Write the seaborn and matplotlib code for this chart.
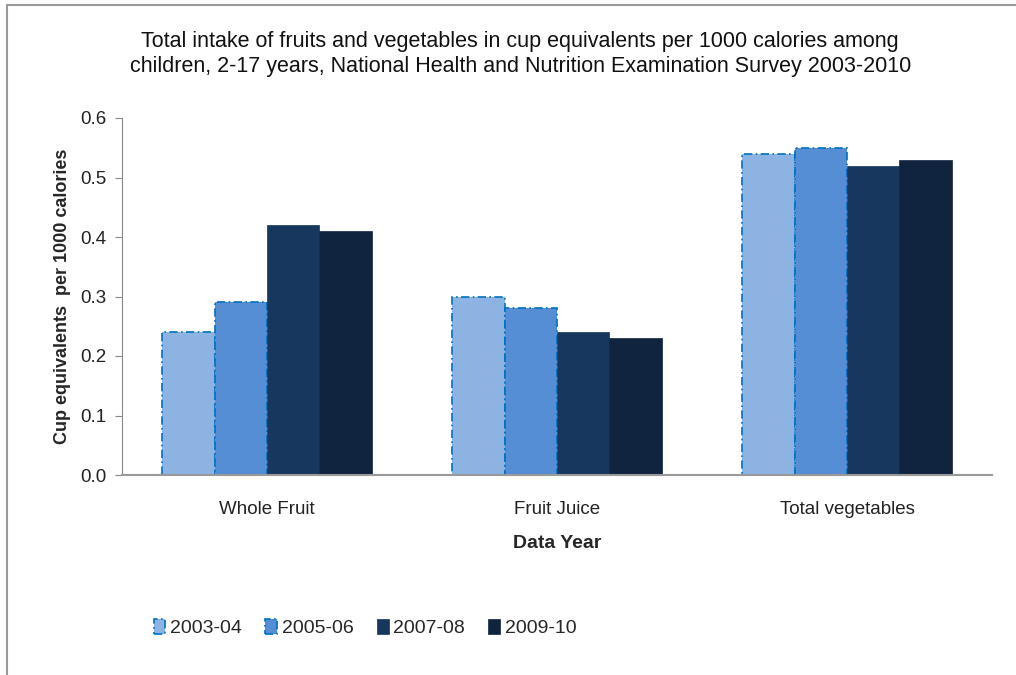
import numpy as np
import pandas as pd
import seaborn as sns
import matplotlib.pyplot as plt
from matplotlib.lines import Line2D

categories = ["Whole Fruit", "Fruit Juice", "Total vegetables"]
years = ["2003-04", "2005-06", "2007-08", "2009-10"]
v_2003 = [0.24, 0.30, 0.54]
v_2005 = [0.29, 0.28, 0.55]
v_2007 = [0.42, 0.24, 0.52]
v_2009 = [0.41, 0.23, 0.53]
colors = ["#8DB3E2", "#558ED5", "#17375E", "#10243F"]

rows = []
for yr, vals in zip(years, [v_2003, v_2005, v_2007, v_2009]):
    for cat, v in zip(categories, vals):
        rows.append({"category": cat, "year": yr, "value": v})
df = pd.DataFrame(rows)

sns.set_style("white")
plt.rcParams['font.family'] = ['Liberation Sans', 'DejaVu Sans']

fig = plt.figure(figsize=(10.16, 6.75), dpi=100)
ax = fig.add_axes([122 / 1016, 1 - 475 / 675, 870 / 1016, 357 / 675])

sns.barplot(data=df, x="category", y="value", hue="year", order=categories,
            hue_order=years, palette=colors, width=0.724, gap=0, saturation=1,
            ax=ax, legend=False)

for i, cont in enumerate(ax.containers):
    for p in cont.patches:
        if i < 2:
            p.set_edgecolor("#0070C0")
            p.set_linestyle((0, (5, 2, 1, 2)))
            p.set_linewidth(1.2)
        else:
            p.set_edgecolor(colors[i])
            p.set_linewidth(0.5)

ax.set_ylim(0, 0.6)
ax.set_yticks(np.arange(0, 0.61, 0.1))
ax.set_yticklabels([f"{t:.1f}" for t in np.arange(0, 0.61, 0.1)], fontsize=13.5, color="#222222")
ax.tick_params(axis="y", length=5, color="#888888", pad=6, left=True)
ax.tick_params(axis="x", length=0, pad=19, labelsize=13.5, labelcolor="#222222")
for s in ["top", "right"]:
    ax.spines[s].set_visible(False)
ax.spines["left"].set_color("#888888")
ax.spines["bottom"].set_color("#999999")
ax.spines["bottom"].set_linewidth(1.5)

ax.set_xlabel("Data Year", fontsize=14, fontweight="bold", labelpad=12)
ax.set_ylabel("Cup equivalents  per 1000 calories", fontsize=13, fontweight="bold", labelpad=7)

fig.text(0.512, 1 - 54 / 675,
         "Total intake of fruits and vegetables in cup equivalents per 1000 calories among\n"
         "children, 2-17 years, National Health and Nutrition Examination Survey 2003-2010",
         ha="center", va="center", fontsize=15.5, linespacing=1.3, color="#111111")

leg = fig.legend(ax.containers, years, loc="center left",
                 bbox_to_anchor=(136 / 1016, 1 - 628 / 675), ncol=4, frameon=False,
                 fontsize=14, handlelength=0.6, handleheight=0.8, handletextpad=0.25,
                 columnspacing=1.2)

# chart border lines (left and top)
fig.add_artist(Line2D([7 / 1016, 7 / 1016], [0, 1 - 5 / 675], color="#999999", lw=1.5,
                      transform=fig.transFigure))
fig.add_artist(Line2D([7 / 1016, 1], [1 - 5 / 675, 1 - 5 / 675], color="#999999", lw=1.5,
                      transform=fig.transFigure))

fig.savefig("out.png", dpi=100)
